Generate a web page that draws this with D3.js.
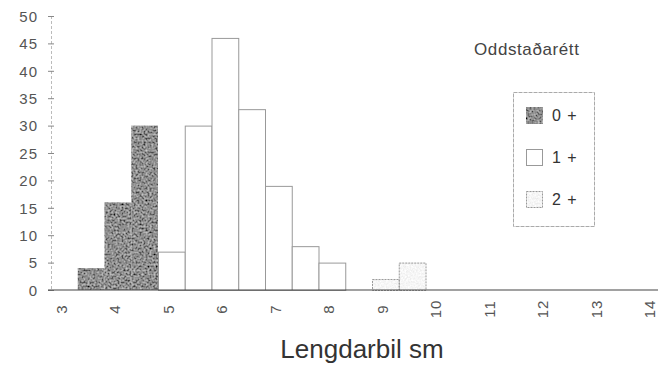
<!doctype html>
<html>
<head>
<meta charset="UTF-8">
<title>Lengdarbil</title>
<script src="https://d3js.org/d3.v7.min.js"></script>
<style>
	body {
		margin: 0;
		background: #fff;
	}
	.chart text {
		font-family: 'Liberation Sans', Arial, sans-serif;
	}
	.tick text {
		font-size: 15px;
		fill: #555;
		letter-spacing: 1px;
	}
</style>
</head>
<body>
<svg class="chart" width="658" height="365"></svg>
<script>
// categories are 0.5 sm length bins, labelled on whole numbers
var categories = ['3', '3.5', '4', '4.5', '5', '5.5', '6', '6.5', '7', '7.5', '8', '8.5',
	'9', '9.5', '10', '10.5', '11', '11.5', '12', '12.5', '13', '13.5', '14'];
var tickLabels = ['3', '4', '5', '6', '7', '8', '9', '10', '11', '12', '13', '14'];
var yTicks = [0, 5, 10, 15, 20, 25, 30, 35, 40, 45, 50];
var age0 = [0, 4, 16, 30, 0, 0, 0, 0, 0, 0, 0, 0, 0, 0, 0, 0, 0, 0, 0, 0, 0, 0, 0];
var age1 = [0, 0, 0, 0, 7, 30, 46, 33, 19, 8, 5, 0, 0, 0, 0, 0, 0, 0, 0, 0, 0, 0, 0];
var age2 = [0, 0, 0, 0, 0, 0, 0, 0, 0, 0, 0, 0, 2, 5, 0, 0, 0, 0, 0, 0, 0, 0, 0];
var seriesNames = ['0+', '1+', '2+'];

var chart = d3.select('.chart');
var plotLeft = 51, band = 26.75, plotTop = 16, plotBottom = 290;

var x = d3.scaleBand()
	.domain(categories)
	.range([plotLeft, plotLeft + band * categories.length])
	.padding(0);
var y = d3.scaleLinear()
	.domain([0, 50])
	.range([plotBottom, plotTop]);

// scanned look: grainy fills
var defs = chart.append('defs');
function grain(id, gain, offset, freq) {
	var f = defs.append('filter').attr('id', id)
		.attr('x', 0).attr('y', 0).attr('width', 1).attr('height', 1);
	f.append('feTurbulence').attr('type', 'fractalNoise')
		.attr('baseFrequency', freq).attr('numOctaves', 3).attr('seed', 7).attr('result', 'n');
	var v = gain + ' 0 0 0 ' + offset + ' ';
	f.append('feColorMatrix').attr('in', 'n').attr('type', 'matrix')
		.attr('values', v + v + v + '0 0 0 0 1').attr('result', 'g');
	f.append('feComposite').attr('in', 'g').attr('in2', 'SourceGraphic').attr('operator', 'in');
}
grain('dark', 0.9, -0.18, 0.5);
grain('light', 0.3, 0.77, 0.6);

// y axis
var yAxis = chart.append('g')
	.attr('transform', 'translate(' + plotLeft + ',0)')
	.call(d3.axisLeft(y).tickValues(yTicks).tickSize(3));
yAxis.select('.domain').attr('stroke', '#bbb').attr('stroke-dasharray', '3,2');
yAxis.selectAll('.tick line').attr('x1', -3).attr('x2', 3).attr('stroke', '#888');
yAxis.selectAll('.tick text').attr('x', -13).attr('dy', '0.35em');

// bars
var series = [
	{name: seriesNames[0], values: age0, fill: '#555', stroke: 'none', filter: 'url(#dark)'},
	{name: seriesNames[1], values: age1, fill: '#fff', stroke: '#999', filter: null},
	{name: seriesNames[2], values: age2, fill: '#eee', stroke: '#999', filter: 'url(#light)'}
];
series.forEach(function(s) {
	var g = chart.append('g');
	var data = categories.map(function(c, i) {
		return {cat: c, value: s.values[i]};
	}).filter(function(d) { return d.value > 0; });
	if (s.filter) {
		g.selectAll('rect.fill').data(data).enter().append('rect')
			.attr('x', function(d) { return x(d.cat); })
			.attr('y', function(d) { return y(d.value); })
			.attr('width', x.bandwidth())
			.attr('height', function(d) { return plotBottom - y(d.value); })
			.attr('fill', '#000')
			.attr('filter', s.filter);
	}
	if (s.stroke !== 'none') {
		g.selectAll('rect.edge').data(data).enter().append('rect')
			.attr('x', function(d) { return x(d.cat) + 0.5; })
			.attr('y', function(d) { return y(d.value) + 0.5; })
			.attr('width', x.bandwidth())
			.attr('height', function(d) { return plotBottom - y(d.value); })
			.attr('fill', s.filter ? 'none' : s.fill)
			.attr('stroke', s.stroke)
			.attr('stroke-width', 1)
			.attr('stroke-dasharray', s.name === '2+' ? '2,1' : null);
	}
});

// x axis
var xAxis = chart.append('g')
	.attr('transform', 'translate(0,' + plotBottom + ')')
	.call(d3.axisBottom(x).tickValues(tickLabels).tickSize(0));
xAxis.select('.domain').attr('stroke', '#444').attr('stroke-width', 1.2)
	.attr('d', 'M' + (plotLeft - 3) + ',0H' + (plotLeft + band * categories.length));
xAxis.selectAll('.tick text')
	.attr('transform', 'translate(-3,19) rotate(-90)')
	.attr('y', 0)
	.attr('dy', '0.35em')
	.attr('text-anchor', 'middle');

// axis title
chart.append('text')
	.attr('x', 362)
	.attr('y', 358)
	.attr('text-anchor', 'middle')
	.attr('font-size', 26)
	.attr('fill', '#333')
	.text('Lengdarbil sm');

// chart title
chart.append('text')
	.attr('x', 474)
	.attr('y', 55)
	.attr('font-size', 17)
	.attr('letter-spacing', 0.6)
	.attr('fill', '#444')
	.text('Oddstaðarétt');

// legend
var legend = chart.append('g');
legend.append('rect')
	.attr('x', 513.5).attr('y', 92.5).attr('width', 81).attr('height', 134)
	.attr('fill', 'none').attr('stroke', '#aaa').attr('stroke-dasharray', '4,1');
var ly = [107, 149, 191];
series.forEach(function(s, i) {
	if (s.filter) {
		legend.append('rect')
			.attr('x', 526).attr('y', ly[i]).attr('width', 17).attr('height', 17)
			.attr('fill', '#000').attr('filter', s.filter);
	}
	if (s.stroke !== 'none') {
		legend.append('rect')
			.attr('x', 526.5).attr('y', ly[i] + 0.5).attr('width', 16).attr('height', 16)
			.attr('fill', 'none').attr('stroke', s.stroke)
			.attr('stroke-dasharray', s.name === '2+' ? '2,1' : null);
	}
	legend.append('text')
		.attr('x', 552)
		.attr('y', ly[i] + 14)
		.attr('font-size', 16)
		.attr('fill', '#333')
		.attr('word-spacing', 2)
		.text(s.name.replace('+', ' +'));
});
</script>
</body>
</html>
